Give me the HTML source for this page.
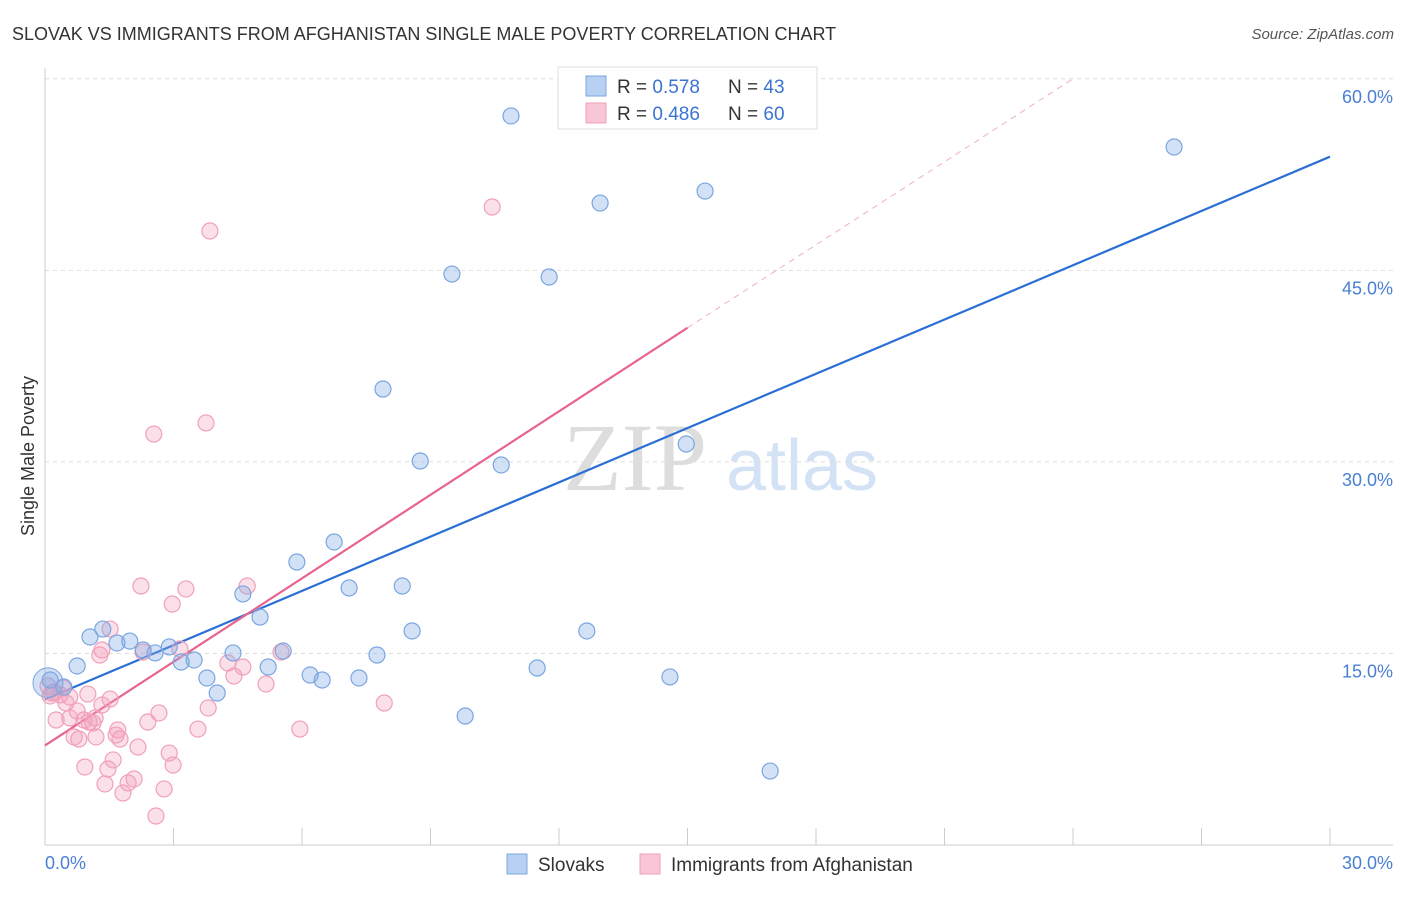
<!DOCTYPE html>
<html><head><meta charset="utf-8"><style>
body{margin:0;background:#fff;font-family:"Liberation Sans",sans-serif}
svg text{font-family:"Liberation Sans",sans-serif}
</style></head><body>
<svg id="c" width="1406" height="892" xmlns="http://www.w3.org/2000/svg">
<text x="12" y="40" font-size="18" fill="#333">SLOVAK VS IMMIGRANTS FROM AFGHANISTAN SINGLE MALE POVERTY CORRELATION CHART</text>
<text x="1394" y="39" font-size="15" fill="#555" font-style="italic" text-anchor="end">Source: ZipAtlas.com</text>
<text transform="translate(34,456) rotate(-90)" font-size="18" fill="#333" text-anchor="middle">Single Male Poverty</text>
<g>
<text x="635" y="490" font-size="96" fill="#ddd" text-anchor="middle" font-family="Liberation Serif" style="font-family:'Liberation Serif',serif">ZIP</text>
<text x="802" y="490" font-size="72" fill="#d4e2f5" text-anchor="middle">atlas</text>
</g>
<g id="grid"></g><g id="axes"></g><g id="lines"></g><g id="pts"></g>
<g>
<rect x="558" y="67" width="259" height="62" fill="#fff" stroke="#ddd"/>
<rect x="586" y="76" width="20" height="20" fill="#b8d0f2" stroke="#7aa6e0"/>
<rect x="586" y="103" width="20" height="20" fill="#f8c6d6" stroke="#f0a0b8"/>
<text x="617" y="93" font-size="19" fill="#333">R = <tspan fill="#3a74d0">0.578</tspan></text>
<text x="728" y="93" font-size="19" fill="#333">N = <tspan fill="#3a74d0">43</tspan></text>
<text x="617" y="120" font-size="19" fill="#333">R = <tspan fill="#3a74d0">0.486</tspan></text>
<text x="728" y="120" font-size="19" fill="#333">N = <tspan fill="#3a74d0">60</tspan></text>
</g>
<g>
<rect x="507" y="854" width="20" height="20" fill="#b8d0f2" stroke="#7aa6e0"/>
<text x="538" y="871" font-size="19" fill="#333">Slovaks</text>
<rect x="640" y="854" width="20" height="20" fill="#f8c6d6" stroke="#f0a0b8"/>
<text x="671" y="871" font-size="19" fill="#333">Immigrants from Afghanistan</text>
</g>
</svg>
<script>
const xTicks=[0,3,6,9,12,15,18,21,24,27,30];
const yTicks=[15,30,45,60];
const yTickLabels=["15.0%","30.0%","45.0%","60.0%"];
const blueX=[10.88,26.36,12.96,15.41,9.50,11.77,7.89,8.76,10.65,14.97,6.75,5.88,4.62,7.10,8.34,5.02,8.57,12.65,1.35,1.05,1.68,1.98,2.29,2.57,2.90,3.48,3.18,4.39,5.56,5.21,6.19,6.47,7.33,7.75,11.49,14.59,3.78,4.02,0.75,0.44,0.12,9.81,16.93];
const blueY=[57.09,54.66,50.27,51.21,44.71,44.48,35.71,30.07,29.76,31.40,23.73,22.16,19.66,20.13,20.28,17.85,16.76,16.76,16.91,16.29,15.82,15.97,15.27,15.04,15.51,14.49,14.33,15.04,15.19,13.94,13.31,12.92,13.08,14.88,13.86,13.16,13.08,11.90,14.02,12.37,12.92,10.10,5.79];
const pinkX=[10.44,3.85,2.54,3.76,2.24,3.29,4.72,2.97,1.52,1.33,1.28,2.29,3.15,5.51,4.27,4.62,4.41,5.16,1.00,0.58,0.21,0.12,0.35,0.49,0.75,1.33,0.26,0.58,0.91,1.12,1.03,3.81,2.66,2.40,1.70,1.66,0.68,0.79,1.19,1.75,3.57,5.95,7.92,2.17,2.90,1.59,0.93,1.47,2.99,2.08,1.40,1.94,2.78,1.82,2.59,0.07,0.16,0.42,1.52,1.17];
const pinkY=[49.96,48.08,32.18,33.05,20.28,20.05,20.28,18.87,16.91,15.27,14.88,15.11,15.35,15.11,14.25,13.94,13.23,12.61,11.82,11.59,11.98,11.67,11.75,11.12,10.49,10.96,9.79,9.95,9.79,9.55,9.63,10.73,10.34,9.63,9.01,8.61,8.46,8.30,8.46,8.30,9.08,9.08,11.12,7.67,7.20,6.66,6.11,5.95,6.26,5.17,4.78,4.86,4.39,4.07,2.27,12.45,11.90,12.29,11.43,9.95];
const blueTrend=[[0,11.4],[30,53.9]];
const pinkTrend=[[0,7.8],[15,40.5]];
const pinkDash=[[15,40.5],[24,60]];
const NS='http://www.w3.org/2000/svg';
const X=v=>45+v*42.833, Y=v=>845-v*12.77;
function mk(t,a,p){const e=document.createElementNS(NS,t);for(const k in a)e.setAttribute(k,a[k]);document.getElementById(p).appendChild(e);return e;}
yTicks.forEach((t,i)=>{
 const g=mk('line',{x1:45,x2:1393,y1:Y(t),y2:Y(t),stroke:'#ddd','stroke-dasharray':'4,4'},'grid');
 
 
 const l=mk('text',{x:1393,y:Y(t)+24,'font-size':18,fill:'#4a7fd4','text-anchor':'end'},'axes');
 l.textContent=yTickLabels[i];
 
 
});
let a=mk('line',{x1:45,x2:45,y1:68,y2:845,stroke:'#ccc'},'axes');


a=mk('line',{x1:45,x2:1393,y1:845,y2:845,stroke:'#ccc'},'axes');


xTicks.forEach(t=>{const e=mk('line',{x1:X(t),x2:X(t),y1:828,y2:845,stroke:'#ccc'},'axes');
 
 });
let tl=mk('text',{x:45,y:869,'font-size':18,fill:'#4a7fd4'},'axes');tl.textContent='0.0%';


tl=mk('text',{x:1393,y:869,'font-size':18,fill:'#4a7fd4','text-anchor':'end'},'axes');tl.textContent='30.0%';


function circ(xs,ys,fill,stroke,name){xs.forEach((x,i)=>{const c=mk('circle',{cx:X(x),cy:Y(ys[i]),r:8,fill:fill,stroke:stroke,'stroke-width':1.2},'pts');
 
 });}
circ(pinkX,pinkY,'rgba(244,160,188,0.32)','#f0a0b8','afghanistan-point');
circ(blueX,blueY,'rgba(130,170,230,0.35)','#7aa6e0','slovak-point');
const big=mk('circle',{cx:X(0.07),cy:Y(12.7),r:15,fill:'rgba(130,170,230,0.35)',stroke:'#7aa6e0'},'pts');


function ln(p,s,w,d,name){const e=mk('line',{x1:X(p[0][0]),y1:Y(p[0][1]),x2:X(p[1][0]),y2:Y(p[1][1]),stroke:s,'stroke-width':w},'lines');if(d)e.setAttribute('stroke-dasharray',d);
 
 }
ln(pinkDash,'#f0b0c4',1,'6,5','afghanistan-trend-extension');
ln(blueTrend,'#2a6fd6',2.2,null,'slovak-trend-line');
ln(pinkTrend,'#e8648e',2.2,null,'afghanistan-trend-line');
</script>
</body></html>
